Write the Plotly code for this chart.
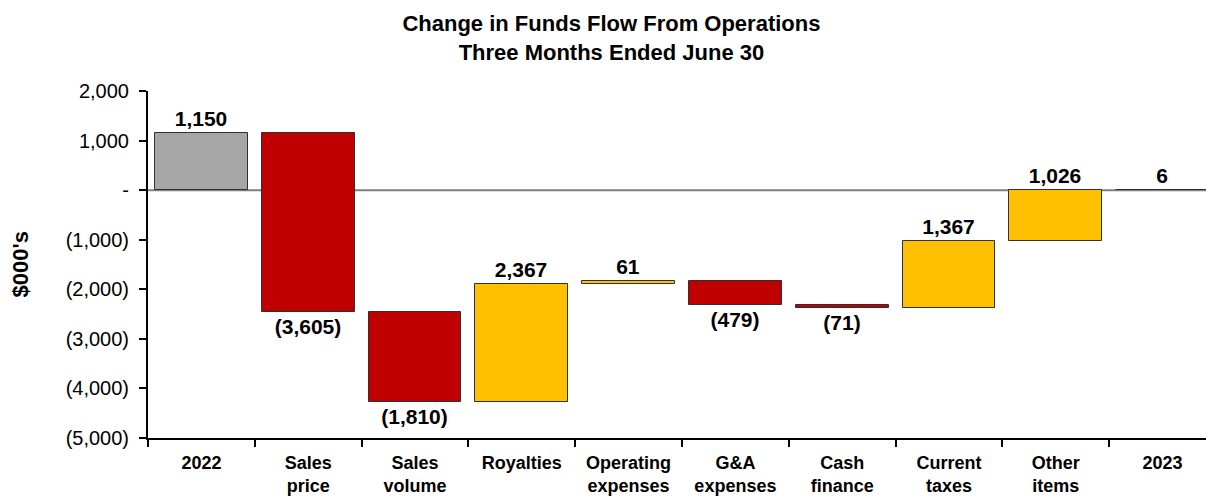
import plotly.graph_objects as go

# ---- data ----
categories = ["2022", "Sales<br>price", "Sales<br>volume", "Royalties", "Operating<br>expenses",
              "G&A<br>expenses", "Cash<br>finance", "Current<br>taxes", "Other<br>items", "2023"]
values = [1150, -3605, -1810, 2367, 61, -479, -71, 1367, 1026, 6]
kinds = ["total", "delta", "delta", "delta", "delta", "delta", "delta", "delta", "delta", "total"]
y_tickvals = [2000, 1000, 0, -1000, -2000, -3000, -4000, -5000]
y_ticktext = ["2,000", "1,000", "-", "(1,000)", "(2,000)", "(3,000)", "(4,000)", "(5,000)"]

GRAY = "#A6A6A6"
RED = "#C00000"
GOLD = "#FFC000"

# compute bases for floating bars
bases, colors, labels = [], [], []
running = 0
for v, k in zip(values, kinds):
    if k == "total":
        bases.append(0)
        running = v
        colors.append(GRAY)
    else:
        bases.append(running)
        running += v
        colors.append(GOLD if v >= 0 else RED)
    labels.append(f"{v:,}" if v >= 0 else f"({abs(v):,})")

xpos = [i + 0.5 for i in range(len(categories))]

FONT = "Liberation Sans, Arial, sans-serif"

fig = go.Figure()
fig.add_trace(go.Bar(
    x=xpos, y=values, base=bases, width=0.87,
    marker=dict(color=colors, line=dict(color="#303030", width=1)),
    text=labels, textposition="outside", cliponaxis=False,
    textfont=dict(family=FONT, size=21, color="black", weight="bold"),
    hoverinfo="skip", showlegend=False,
))

# zero line (gray)
fig.add_shape(type="line", xref="paper", yref="y", x0=0, x1=1, y0=0, y1=0,
              line=dict(color="#808080", width=2), layer="below")

W, H = 1206, 497
L, R, T, B = 148, 0, 91, 59
cat_w = 106.8
xmax = (W - L) / cat_w

fig.update_layout(
    width=W, height=H,
    margin=dict(l=L, r=R, t=T, b=B, pad=0, autoexpand=False),
    plot_bgcolor="white", paper_bgcolor="white",
    font=dict(family=FONT, color="black"),
    title=dict(
        text="<b>Change in Funds Flow From Operations<br>Three Months Ended June 30</b>",
        xref="container", x=0.507, xanchor="center",
        yref="container", y=1 - 31 / H, yanchor="middle",
        font=dict(family=FONT, size=22, color="black"),
    ),
    bargap=0,
    xaxis=dict(
        range=[0, xmax], tickvals=xpos, ticktext=categories,
        ticks="", ticklabelstandoff=7, automargin=False,
        tickfont=dict(family=FONT, size=18, color="black", weight="bold"),
        showline=True, linecolor="black", linewidth=2,
        showgrid=False, zeroline=False,
        minor=dict(tick0=0, dtick=1, ticks="outside", ticklen=7, tickwidth=2,
                   tickcolor="black", showgrid=False),
    ),
    yaxis=dict(
        range=[-5000, 2000], tickvals=y_tickvals, ticktext=y_ticktext,
        ticks="outside", ticklen=7, tickwidth=2, tickcolor="black",
        ticklabelstandoff=6, automargin=False,
        tickfont=dict(family=FONT, size=20, color="black"),
        showline=True, linecolor="black", linewidth=2,
        showgrid=False, zeroline=False,
    ),
    annotations=[dict(
        text="<b>$000's</b>", textangle=-90,
        xref="paper", yref="paper", x=(20 - L) / (W - L - R), y=0.5,
        xanchor="center", yanchor="middle", showarrow=False,
        font=dict(family=FONT, size=22, color="black"),
    )],
)

fig.write_html("out.html")
